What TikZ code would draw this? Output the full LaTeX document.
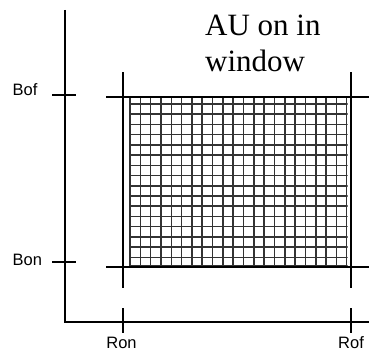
\documentclass[tikz,border=0pt]{standalone}
\usepackage{fontspec}
\setmainfont{Liberation Serif}
\newfontfamily\arialfont{Liberation Sans}
\begin{document}
\begin{tikzpicture}[x=1pt, y=-1pt,
    axisstyle/.style={black, line width=2pt},
    gridstyle/.style={black!80, line width=1.5pt},
    ticklabel/.style={font=\arialfont\fontsize{16.5}{19}\selectfont, inner sep=0pt}
]
    \useasboundingbox (0,0) rectangle (369,353);
    % Axes with the Bof/Bon and Ron/Rof marks
    \draw[axisstyle] (65,10) -- (65,322) -- (369,322);
    \draw[axisstyle] (52,94.5) -- (76,94.5);
    \draw[axisstyle] (52,262) -- (76,262);
    \draw[axisstyle] (123,308) -- (123,333);
    \draw[axisstyle] (350.5,308) -- (350.5,333);
    \node[ticklabel, anchor=base west] (bof) at (12.5,95) {Bof};
    \node[ticklabel, anchor=base west] (bon) at (12.5,265) {Bon};
    \node[ticklabel, anchor=base] (ron) at (121.5,348.5) {Ron};
    \node[ticklabel, anchor=base] (rof) at (351,348.5) {Rof};
    % Window: hatched grid
    \begin{scope}
    \clip (129,96.5) rectangle (347.5,266.5);
    \foreach \i in {0,...,21}
        \draw[gridstyle] (130+10.32*\i,90) -- ++(0,185);
    \foreach \j in {0,...,15}
        \draw[gridstyle] (125,104+10.22*\j) -- ++(230,0);
    \draw[gridstyle] (125,97) -- ++(230,0);
    \draw[gridstyle] (125,266) -- ++(230,0);
    \end{scope}
    % Window borders
    \draw[axisstyle] (123,72) -- (123,288);
    \draw[axisstyle] (350.5,72) -- (350.5,288);
    \draw[axisstyle] (106,96.5) -- (369,96.5);
    \draw[axisstyle] (106,266.5) -- (369,266.5);
    \node[font=\fontsize{31}{36}\selectfont, align=left, anchor=north west, inner sep=0pt] (title) at (205,15) {AU on in\\window};
\end{tikzpicture}
\end{document}
